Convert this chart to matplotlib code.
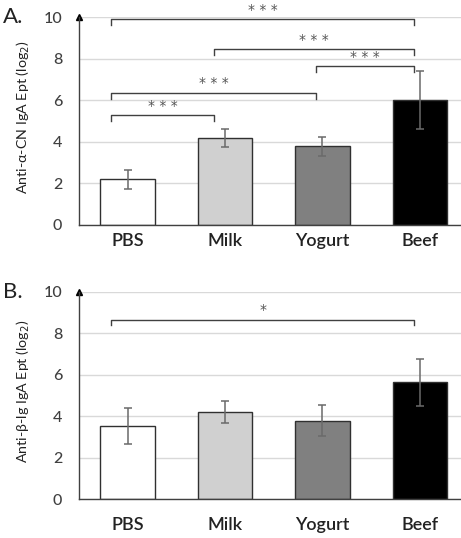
import matplotlib
matplotlib.use('Agg')
import matplotlib.pyplot as plt

plt.rcParams['font.family'] = ['Lato', 'DejaVu Sans']

# groups and values
groups = ['PBS', 'Milk', 'Yogurt', 'Beef']
acn_mean = [2.2, 4.18, 3.78, 6.0]
acn_err = [0.45, 0.45, 0.46, 1.4]
blg_mean = [3.53, 4.22, 3.79, 5.63]
blg_err = [0.85, 0.53, 0.73, 1.12]
bar_colors = ['white', '#d0d0d0', '#808080', 'black']

# significance brackets: (left group, right group, height, label)
acn_brackets = [(0, 3, 9.89, '* * *'),
                (1, 3, 8.45, '* * *'),
                (2, 3, 7.63, '* * *'),
                (0, 2, 6.35, '* * *'),
                (0, 1, 5.28, '* * *')]
blg_brackets = [(0, 3, 8.64, '*')]

# bracket end offsets from the bar centre (ends sit a bit left of centre)
end_off = {0: -0.17, 1: -0.11, 2: -0.07, 3: -0.06}

fig = plt.figure(figsize=(4.61, 5.38), dpi=100)
ax_a = fig.add_axes([0.1714, 0.5818, 0.845, 0.3866])
ax_b = fig.add_axes([0.1714, 0.0719, 0.845, 0.3860])


def draw_panel(ax, means, errs, brackets, ylabel, letter, xpad):
    x = list(range(len(groups)))
    ax.set_xlim(-0.5, 3.5)
    ax.set_ylim(0, 10)
    ax.set_yticks(range(0, 11, 2))
    ax.yaxis.grid(True, color='#d9d9d9', linewidth=1)
    ax.set_axisbelow(True)
    ax.bar(x, means, width=0.56, color=bar_colors, edgecolor='#303030',
           linewidth=1, zorder=2)
    ax.errorbar(x, means, yerr=errs, fmt='none', ecolor='#6a6a6a',
                elinewidth=1.1, capsize=3, capthick=1.1, zorder=3)
    ax.set_xticks(x)
    ax.set_xticklabels(groups, fontsize=13, color='#222222',
                       fontweight=600)
    for lab in ax.get_yticklabels():
        lab.set_fontweight(500)
    ax.tick_params(axis='x', length=0, pad=xpad)
    ax.tick_params(axis='y', length=0, pad=12, labelsize=11.5,
                   labelcolor='#404040')
    for side in ['top', 'right']:
        ax.spines[side].set_visible(False)
    for side in ['left', 'bottom']:
        ax.spines[side].set_color('#404040')
        ax.spines[side].set_linewidth(1)
    ax.plot(0, 1, marker='^', color='black', markersize=5,
            transform=ax.transAxes, clip_on=False)
    ax.set_ylabel(ylabel, fontsize=10.3, color='#222222')
    ax.yaxis.set_label_coords(-0.12, 0.52)
    ax.text(-0.17, 1.0, letter, transform=ax.transAxes, fontsize=16,
            ha='center', va='center', color='#222222')
    for i, j, h, lab in brackets:
        x1 = i + end_off[i]
        x2 = j + end_off[j]
        ax.plot([x1, x1, x2, x2], [h - 0.27, h, h, h - 0.27],
                color='#404040', linewidth=1, clip_on=False, zorder=4)
        ax.text((x1 + x2) / 2, h + 0.12, lab, ha='center', va='bottom',
                fontsize=10, color='#555555', family='DejaVu Sans')


draw_panel(ax_a, acn_mean, acn_err, acn_brackets,
           'Anti-α-CN IgA Ept (log$_2$)', 'A.', 6)
draw_panel(ax_b, blg_mean, blg_err, blg_brackets,
           'Anti-β-lg IgA Ept (log$_2$)', 'B.', 13)

fig.savefig('out.png', dpi=100)
